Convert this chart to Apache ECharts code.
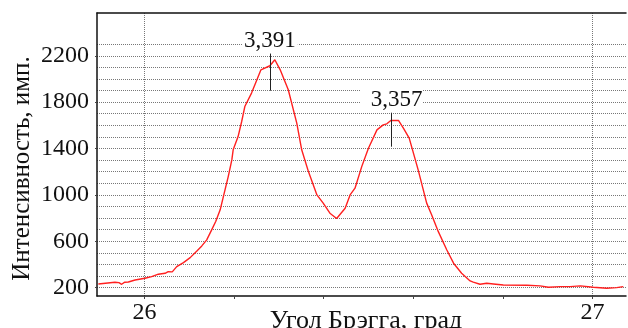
<!DOCTYPE html>
<html>
<head>
<meta charset="utf-8">
<script src="https://cdn.jsdelivr.net/npm/echarts@6/dist/echarts.min.js"></script>
<style>
html,body{margin:0;padding:0;background:#fff;}
#c{width:628px;height:328px;}
</style>
</head>
<body>
<div id="c"></div>
<script>
// Bragg angle (deg) and intensity (counts)
const angle = [25.897,25.934,25.943,25.949,25.956,25.964,25.979,26.001,26.016,26.031,26.046,26.053,26.062,26.072,26.087,26.102,26.117,26.128,26.139,26.150,26.159,26.169,26.178,26.187,26.195,26.198,26.209,26.217,26.224,26.239,26.251,26.260,26.280,26.291,26.303,26.321,26.340,26.351,26.366,26.385,26.399,26.414,26.429,26.448,26.459,26.470,26.485,26.500,26.519,26.533,26.541,26.550,26.567,26.578,26.591,26.611,26.630,26.641,26.656,26.675,26.690,26.708,26.727,26.734,26.749,26.764,26.779,26.801,26.854,26.883,26.902,26.928,26.950,26.973,27.002,27.032,27.054,27.069];
const intensity = [232,247,243,229,247,249,266,281,295,316,324,338,336,381,416,459,517,560,612,698,770,871,1015,1158,1302,1389,1503,1633,1762,1878,1993,2079,2114,2166,2079,1907,1619,1389,1201,1000,929,842,797,885,1000,1058,1244,1403,1561,1604,1613,1642,1642,1576,1490,1216,929,828,683,525,411,324,258,247,229,238,232,223,221,215,203,209,209,215,203,195,200,209];

// peak markers: angle, top and bottom of the marker, d-spacing label
const peakAngle = [26.280, 26.552];
const peakTop = [2219, 1709];
const peakBottom = [1899, 1416];
const peakLabel = ['3,391', '3,357'];

// axis ticks
const yLabelValues = [200, 600, 1000, 1400, 1800, 2200];
const yGridValues = [200,300,400,500,600,700,800,900,1000,1100,1200,1300,1400,1500,1600,1700,1800,1900,2000,2100,2200,2300];
const xLabelValues = [26, 27];
const xTickValues = [26, 26.2, 26.4, 26.6, 26.8, 27];

const xMin = 25.894, xMax = 27.075, yMin = 128, yMax = 2569;
const FONT = 'Liberation Serif';

const chart = echarts.init(document.getElementById('c'));
const pts = angle.map((a, i) => [a, intensity[i]]);
const peakLines = peakAngle.map((a, i) => [
  {coord: [a, peakTop[i]], label: {formatter: peakLabel[i], padding: i === 1 ? [0, 0, 0, 10] : [0, 2]}},
  {coord: [a, peakBottom[i]]}
]);

chart.setOption({
  animation: false,
  grid: {left: 97, right: 2, top: 13, bottom: 32, outerBoundsMode: 'none', containLabel: false},
  xAxis: [{
    type: 'value', min: xMin, max: xMax, position: 'bottom',
    axisLine: {show: true, lineStyle: {color: '#111', width: 1.5}},
    axisTick: {show: true, customValues: xTickValues, length: 3, lineStyle: {color: '#444'}},
    axisLabel: {customValues: xLabelValues, formatter: v => String(v), fontFamily: FONT, fontSize: 24, color: '#111', margin: 5},
    splitLine: {show: false},
    name: 'Угол Брэгга, град', nameLocation: 'middle', nameGap: 12, nameMoveOverlap: false,
    nameTextStyle: {fontFamily: FONT, fontSize: 26, color: '#111', verticalAlign: 'top', padding: [0, 0, 0, 9]}
  }, {
    type: 'value', min: xMin, max: xMax, position: 'top',
    axisLine: {show: true, lineStyle: {color: '#111', width: 1.5}},
    axisTick: {show: false, customValues: xLabelValues},
    axisLabel: {show: false},
    splitLine: {show: true, lineStyle: {color: '#777', type: 'dotted', width: 1}}
  }],
  yAxis: [{
    type: 'value', min: yMin, max: yMax,
    axisLine: {show: true, lineStyle: {color: '#111', width: 1.5}},
    axisTick: {show: false, customValues: yGridValues},
    axisLabel: {customValues: yLabelValues, formatter: v => String(v), fontFamily: FONT, fontSize: 24, color: '#111', margin: 8},
    splitLine: {show: true, lineStyle: {color: '#777', type: 'dotted', width: 1}},
    name: 'Интенсивность, имп.', nameLocation: 'middle', nameGap: 62, nameMoveOverlap: false,
    nameTextStyle: {fontFamily: FONT, fontSize: 25, color: '#111', padding: [0, 28, 0, 0]}
  }, {
    type: 'value', min: yMin, max: yMax, position: 'left',
    axisLine: {show: false},
    axisTick: {show: true, customValues: yLabelValues, length: 2, lineStyle: {color: '#444'}},
    axisLabel: {show: false},
    splitLine: {show: false}
  }],
  series: [{
    type: 'line', data: pts, xAxisIndex: 0, yAxisIndex: 0,
    showSymbol: false, symbol: 'none',
    lineStyle: {color: '#ff2020', width: 1.4},
    markLine: {
      silent: true, symbol: 'none',
      lineStyle: {color: '#222', width: 1, type: 'solid'},
      label: {show: true, position: 'start', distance: 1, fontFamily: FONT, fontSize: 23, color: '#111',
              backgroundColor: '#fff'},
      data: peakLines
    }
  }]
});
</script>
</body>
</html>
